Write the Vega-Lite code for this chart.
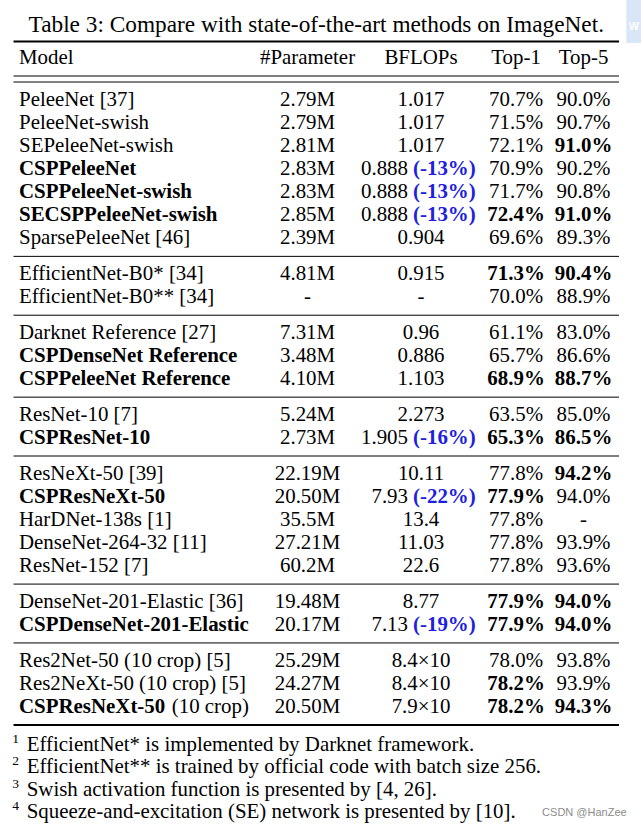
{
  "$schema": "https://vega.github.io/schema/vega-lite/v6.json",
  "width": 641,
  "height": 827,
  "autosize": {"type": "fit", "contains": "padding"},
  "padding": 0,
  "background": "white",
  "config": {
    "view": {"stroke": null},
    "text": {"font": "'Liberation Serif', 'Times New Roman', Times, serif", "fontSize": 20.9, "baseline": "middle", "color": "black"}
  },
  "datasets": {
    "rows": [
      {"line": -1.82, "model": "Model", "param": "#Parameter", "flops": "BFLOPs", "top1": "Top-1", "top5": "Top-5"},
      {"line": 0, "model": "PeleeNet [37]", "param": "2.79M", "flops": "1.017", "top1": "70.7%", "top5": "90.0%"},
      {"line": 1, "model": "PeleeNet-swish", "param": "2.79M", "flops": "1.017", "top1": "71.5%", "top5": "90.7%"},
      {"line": 2, "model": "SEPeleeNet-swish", "param": "2.81M", "flops": "1.017", "top1": "72.1%", "top5": "91.0%", "best5": true},
      {"line": 3, "model": "CSPPeleeNet", "ours": true, "param": "2.83M", "flops": "0.888", "delta": "(-13%)", "top1": "70.9%", "top5": "90.2%"},
      {"line": 4, "model": "CSPPeleeNet-swish", "ours": true, "param": "2.83M", "flops": "0.888", "delta": "(-13%)", "top1": "71.7%", "top5": "90.8%"},
      {"line": 5, "model": "SECSPPeleeNet-swish", "ours": true, "param": "2.85M", "flops": "0.888", "delta": "(-13%)", "top1": "72.4%", "best1": true, "top5": "91.0%", "best5": true},
      {"line": 6, "model": "SparsePeleeNet [46]", "param": "2.39M", "flops": "0.904", "top1": "69.6%", "top5": "89.3%"},
      {"line": 7.55, "model": "EfficientNet-B0* [34]", "param": "4.81M", "flops": "0.915", "top1": "71.3%", "best1": true, "top5": "90.4%", "best5": true},
      {"line": 8.55, "model": "EfficientNet-B0** [34]", "param": "-", "flops": "-", "top1": "70.0%", "top5": "88.9%"},
      {"line": 10.1, "model": "Darknet Reference [27]", "param": "7.31M", "flops": "0.96", "top1": "61.1%", "top5": "83.0%"},
      {"line": 11.1, "model": "CSPDenseNet Reference", "ours": true, "param": "3.48M", "flops": "0.886", "top1": "65.7%", "top5": "86.6%"},
      {"line": 12.1, "model": "CSPPeleeNet Reference", "ours": true, "param": "4.10M", "flops": "1.103", "top1": "68.9%", "best1": true, "top5": "88.7%", "best5": true},
      {"line": 13.65, "model": "ResNet-10 [7]", "param": "5.24M", "flops": "2.273", "top1": "63.5%", "top5": "85.0%"},
      {"line": 14.65, "model": "CSPResNet-10", "ours": true, "param": "2.73M", "flops": "1.905", "delta": "(-16%)", "top1": "65.3%", "best1": true, "top5": "86.5%", "best5": true},
      {"line": 16.2, "model": "ResNeXt-50 [39]", "param": "22.19M", "flops": "10.11", "top1": "77.8%", "top5": "94.2%", "best5": true},
      {"line": 17.2, "model": "CSPResNeXt-50", "ours": true, "param": "20.50M", "flops": "7.93", "delta": "(-22%)", "top1": "77.9%", "best1": true, "top5": "94.0%"},
      {"line": 18.2, "model": "HarDNet-138s [1]", "param": "35.5M", "flops": "13.4", "top1": "77.8%", "top5": "-"},
      {"line": 19.2, "model": "DenseNet-264-32 [11]", "param": "27.21M", "flops": "11.03", "top1": "77.8%", "top5": "93.9%"},
      {"line": 20.2, "model": "ResNet-152 [7]", "param": "60.2M", "flops": "22.6", "top1": "77.8%", "top5": "93.6%"},
      {"line": 21.75, "model": "DenseNet-201-Elastic [36]", "param": "19.48M", "flops": "8.77", "top1": "77.9%", "best1": true, "top5": "94.0%", "best5": true},
      {"line": 22.75, "model": "CSPDenseNet-201-Elastic", "ours": true, "param": "20.17M", "flops": "7.13", "delta": "(-19%)", "top1": "77.9%", "best1": true, "top5": "94.0%", "best5": true},
      {"line": 24.3, "model": "Res2Net-50 (10 crop) [5]", "param": "25.29M", "flops": "8.4×10", "top1": "78.0%", "top5": "93.8%"},
      {"line": 25.3, "model": "Res2NeXt-50 (10 crop) [5]", "param": "24.27M", "flops": "8.4×10", "top1": "78.2%", "best1": true, "top5": "93.9%"},
      {"line": 26.3, "model": "CSPResNeXt-50", "suffix": "(10 crop)", "ours": true, "param": "20.50M", "flops": "7.9×10", "top1": "78.2%", "best1": true, "top5": "94.3%", "best5": true}
    ],
    "rules": [
      {"line": -2.535, "kind": "toprule"},
      {"line": -1.04, "kind": "midrule"},
      {"line": -0.78, "kind": "midrule"},
      {"line": 6.775, "kind": "midrule"},
      {"line": 9.325, "kind": "midrule"},
      {"line": 12.875, "kind": "midrule"},
      {"line": 15.425, "kind": "midrule"},
      {"line": 20.975, "kind": "midrule"},
      {"line": 23.525, "kind": "midrule"},
      {"line": 27.08, "kind": "bottomrule"}
    ],
    "notes": [
      {"line": 27.95, "n": "1", "note": "EfficientNet* is implemented by Darknet framework."},
      {"line": 28.91, "n": "2", "note": "EfficientNet** is trained by official code with batch size 256."},
      {"line": 29.9, "n": "3", "note": "Swish activation function is presented by [4, 26]."},
      {"line": 30.84, "n": "4", "note": "Squeeze-and-excitation (SE) network is presented by [10]."}
    ]
  },
  "layer": [
    {
      "data": {"values": [{"caption": "Table 3: Compare with state-of-the-art methods on ImageNet."}]},
      "mark": {"type": "text", "align": "center", "fontSize": 23.3},
      "encoding": {
        "x": {"datum": 50, "type": "quantitative", "scale": {"domain": [-2.23, 103.63], "nice": false, "zero": false}, "axis": null},
        "y": {"datum": -3.25, "type": "quantitative", "scale": {"domain": [-4.333, 31.5], "reverse": true, "nice": false, "zero": false}, "axis": null},
        "text": {"field": "caption"}
      }
    },
    {
      "data": {"values": [{"badge": "W"}]},
      "mark": {"type": "rect", "color": "#d9e6f8"},
      "encoding": {
        "x": {"datum": 101.2, "type": "quantitative"},
        "x2": {"datum": 103.63},
        "y": {"datum": -4.333, "type": "quantitative"},
        "y2": {"datum": -2.47}
      }
    },
    {
      "data": {"values": [{"badge": "W"}]},
      "mark": {"type": "text", "align": "left", "font": "'Liberation Sans', Arial, sans-serif", "fontSize": 11, "fontWeight": "bold", "color": "#ffffff"},
      "encoding": {
        "x": {"datum": 101.6, "type": "quantitative"},
        "y": {"datum": -3.15, "type": "quantitative"},
        "text": {"field": "badge"}
      }
    },
    {
      "data": {"name": "rules"},
      "mark": {"type": "rule", "color": "black"},
      "encoding": {
        "x": {"datum": 0, "type": "quantitative"},
        "x2": {"datum": 100},
        "y": {"field": "line", "type": "quantitative"},
        "strokeWidth": {"condition": {"test": "datum.kind !== 'midrule'", "value": 2}, "value": 1}
      }
    },
    {
      "data": {"name": "rows"},
      "transform": [{"filter": "!datum.ours"}],
      "mark": {"type": "text", "align": "left"},
      "encoding": {
        "x": {"datum": 0.91, "type": "quantitative"},
        "y": {"field": "line", "type": "quantitative"},
        "text": {"field": "model"}
      }
    },
    {
      "data": {"name": "rows"},
      "transform": [{"filter": "datum.ours"}],
      "mark": {"type": "text", "align": "left", "fontWeight": "bold"},
      "encoding": {
        "x": {"datum": 0.91, "type": "quantitative"},
        "y": {"field": "line", "type": "quantitative"},
        "text": {"field": "model"}
      }
    },
    {
      "data": {"name": "rows"},
      "transform": [{"filter": "datum.suffix"}],
      "mark": {"type": "text", "align": "left"},
      "encoding": {
        "x": {"datum": 26.13, "type": "quantitative"},
        "y": {"field": "line", "type": "quantitative"},
        "text": {"field": "suffix"}
      }
    },
    {
      "data": {"name": "rows"},
      "mark": {"type": "text", "align": "center"},
      "encoding": {
        "x": {"datum": 48.56, "type": "quantitative"},
        "y": {"field": "line", "type": "quantitative"},
        "text": {"field": "param"}
      }
    },
    {
      "data": {"name": "rows"},
      "transform": [{"filter": "!datum.delta"}],
      "mark": {"type": "text", "align": "center"},
      "encoding": {
        "x": {"datum": 67.3, "type": "quantitative"},
        "y": {"field": "line", "type": "quantitative"},
        "text": {"field": "flops"}
      }
    },
    {
      "data": {"name": "rows"},
      "transform": [{"filter": "datum.delta"}],
      "mark": {"type": "text", "align": "right"},
      "encoding": {
        "x": {"datum": 65.15, "type": "quantitative"},
        "y": {"field": "line", "type": "quantitative"},
        "text": {"field": "flops"}
      }
    },
    {
      "data": {"name": "rows"},
      "transform": [{"filter": "datum.delta"}],
      "mark": {"type": "text", "align": "left", "fontWeight": "bold", "color": "#2020e0"},
      "encoding": {
        "x": {"datum": 65.98, "type": "quantitative"},
        "y": {"field": "line", "type": "quantitative"},
        "text": {"field": "delta"}
      }
    },
    {
      "data": {"name": "rows"},
      "transform": [{"filter": "!datum.best1"}],
      "mark": {"type": "text", "align": "center"},
      "encoding": {
        "x": {"datum": 83.0, "type": "quantitative"},
        "y": {"field": "line", "type": "quantitative"},
        "text": {"field": "top1"}
      }
    },
    {
      "data": {"name": "rows"},
      "transform": [{"filter": "datum.best1"}],
      "mark": {"type": "text", "align": "center", "fontWeight": "bold"},
      "encoding": {
        "x": {"datum": 83.0, "type": "quantitative"},
        "y": {"field": "line", "type": "quantitative"},
        "text": {"field": "top1"}
      }
    },
    {
      "data": {"name": "rows"},
      "transform": [{"filter": "!datum.best5"}],
      "mark": {"type": "text", "align": "center"},
      "encoding": {
        "x": {"datum": 94.14, "type": "quantitative"},
        "y": {"field": "line", "type": "quantitative"},
        "text": {"field": "top5"}
      }
    },
    {
      "data": {"name": "rows"},
      "transform": [{"filter": "datum.best5"}],
      "mark": {"type": "text", "align": "center", "fontWeight": "bold"},
      "encoding": {
        "x": {"datum": 94.14, "type": "quantitative"},
        "y": {"field": "line", "type": "quantitative"},
        "text": {"field": "top5"}
      }
    },
    {
      "data": {"name": "notes"},
      "mark": {"type": "text", "align": "center", "fontSize": 13.5, "dy": -6},
      "encoding": {
        "x": {"datum": 0.33, "type": "quantitative"},
        "y": {"field": "line", "type": "quantitative"},
        "text": {"field": "n"}
      }
    },
    {
      "data": {"name": "notes"},
      "mark": {"type": "text", "align": "left"},
      "encoding": {
        "x": {"datum": 2.18, "type": "quantitative"},
        "y": {"field": "line", "type": "quantitative"},
        "text": {"field": "note"}
      }
    },
    {
      "data": {"values": [{"mark": "CSDN @HanZee"}]},
      "mark": {"type": "text", "align": "right", "font": "'Liberation Sans', Arial, sans-serif", "fontSize": 11, "color": "#8c8c8c"},
      "encoding": {
        "x": {"datum": 101.26, "type": "quantitative"},
        "y": {"datum": 30.88, "type": "quantitative"},
        "text": {"field": "mark"}
      }
    }
  ]
}
